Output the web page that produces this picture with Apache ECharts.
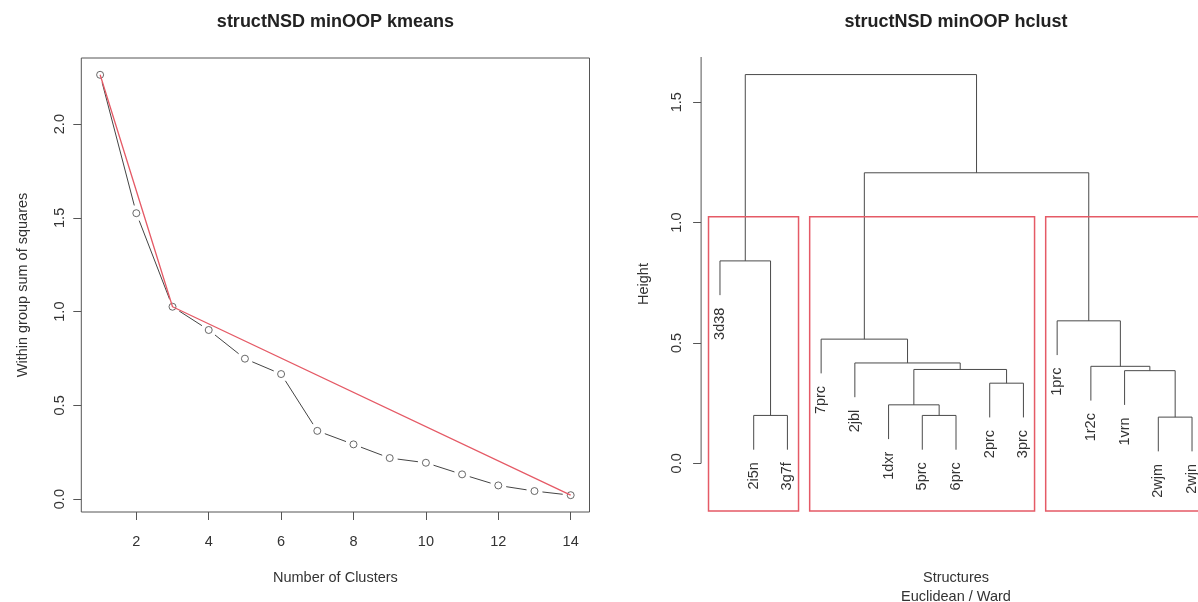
<!DOCTYPE html>
<html>
<head>
<meta charset="utf-8">
<script src="https://cdn.jsdelivr.net/npm/echarts@6/dist/echarts.min.js"></script>
<style>
  html, body { margin: 0; padding: 0; background: #fff; }
  #chart { width: 1198px; height: 602px; }
</style>
</head>
<body>
<div id="chart"></div>
<script>
// ---- k-means elbow: within-group sum of squares for k = 1..14 ----
const clusterCounts = [1, 2, 3, 4, 5, 6, 7, 8, 9, 10, 11, 12, 13, 14];
const withinSS = [2.263, 1.525, 1.026, 0.902, 0.749, 0.667, 0.364, 0.292, 0.219, 0.194, 0.132, 0.073, 0.043, 0.021];
// red guide polyline through the elbow
const elbowK = [1, 3, 14];
const xTicksLeft = [2, 4, 6, 8, 10, 12, 14];
const yTicksLeft = [0, 0.5, 1, 1.5, 2];

// ---- hierarchical clustering (Euclidean / Ward), leaves in plotting order ----
const leafLabels = ['3d38', '2i5n', '3g7f', '7prc', '2jbl', '1dxr', '5prc', '6prc', '2prc', '3prc', '1prc', '1r2c', '1vrn', '2wjm', '2wjn'];
// merge steps in hclust form: negative = leaf (1-based, plotting order), positive = earlier step
const mergeLeft   = [-14, -2, -7, -6, -9, -13, 4, -12, -5, -4, -11, -1, 10, 12];
const mergeRight  = [-15, -3, -8,  3, -10,  1, 5,   6,  7,  9,   8,  2, 11, 13];
const mergeHeight = [0.192, 0.199, 0.199, 0.243, 0.333, 0.385, 0.390, 0.403, 0.417, 0.516, 0.592, 0.841, 1.207, 1.615];
const yTicksRight = [0, 0.5, 1, 1.5];
const clusterSizes = [3, 7, 5];

const FONT = '"Liberation Sans", Arial, Helvetica, sans-serif';
const TEXT = '#333';
const AXIS = '#555';
const RED = '#e55a66';

// R-style axis padding (4% of the data range on each side)
function padRange(lo, hi) { const p = 0.04 * (hi - lo); return [lo - p, hi + p]; }
const [xMinL, xMaxL] = padRange(Math.min(...clusterCounts), Math.max(...clusterCounts));
const [yMinL, yMaxL] = padRange(Math.min(...withinSS), Math.max(...withinSS));
const [xMinR, xMaxR] = padRange(1, leafLabels.length);
const yMinR = -0.198, yMaxR = 1.688;

// dendrogram geometry in data units
const hMin = Math.min(...mergeHeight), hMax = Math.max(...mergeHeight);
const hang = 0.1 * (hMax - hMin);
const nodeX = [];
const leafTop = new Array(leafLabels.length);
const branches = [];
const childX = c => (c < 0 ? -c : nodeX[c - 1]);
mergeHeight.forEach((h, i) => {
  const a = mergeLeft[i], b = mergeRight[i];
  const ya = a < 0 ? h - hang : mergeHeight[a - 1];
  const yb = b < 0 ? h - hang : mergeHeight[b - 1];
  if (a < 0) leafTop[-a - 1] = ya;
  if (b < 0) leafTop[-b - 1] = yb;
  const xa = childX(a), xb = childX(b);
  nodeX.push((xa + xb) / 2);
  branches.push([xa, ya, xb, yb, h]);
});
const leafItems = leafLabels.map((name, i) => [i + 1, leafTop[i], i]);

// rect.hclust boxes for k clusters
const sortedH = mergeHeight.slice().sort((p, q) => q - p);
const kCut = clusterSizes.length;
const cutHeight = (sortedH[kCut - 2] + sortedH[kCut - 1]) / 2;
let acc = 0;
const boxes = clusterSizes.map(s => { const r = [acc + 0.66, acc + s + 0.33, cutHeight]; acc += s; return r; });

// consecutive point pairs for the "both" style line (gaps around each point)
const wssPairs = [];
for (let i = 0; i < clusterCounts.length - 1; i++) {
  wssPairs.push([clusterCounts[i], withinSS[i], clusterCounts[i + 1], withinSS[i + 1]]);
}
const elbowLine = elbowK.map(k => [k, withinSS[clusterCounts.indexOf(k)]]);

const axisText = { fontFamily: FONT, fontSize: 14.5, color: TEXT };

const chart = echarts.init(document.getElementById('chart'), null, { renderer: 'canvas' });
chart.setOption({
  animation: false,
  backgroundColor: '#ffffff',
  title: [
    { text: 'structNSD minOOP kmeans', left: 335.4, top: 13, textAlign: 'center', padding: 0,
      textStyle: { fontFamily: FONT, fontSize: 18, fontWeight: 'bold', color: '#222' } },
    { text: 'structNSD minOOP hclust', left: 956, top: 13, textAlign: 'center', padding: 0,
      textStyle: { fontFamily: FONT, fontSize: 18, fontWeight: 'bold', color: '#222' } }
  ],
  grid: [
    { left: 81.3, top: 58, width: 508.2, height: 454, show: true, borderColor: AXIS, borderWidth: 1,
      backgroundColor: 'transparent', containLabel: false, outerBoundsMode: 'none' },
    { left: 701.1, top: 57, width: 509.8, height: 454, show: false, containLabel: false, outerBoundsMode: 'none' }
  ],
  xAxis: [
    { gridIndex: 0, type: 'value', min: xMinL, max: xMaxL,
      axisLine: { show: false, onZero: false }, splitLine: { show: false },
      axisTick: { show: true, length: 8, customValues: xTicksLeft, lineStyle: { color: AXIS } },
      axisLabel: { customValues: xTicksLeft, margin: 22, ...axisText },
      name: 'Number of Clusters', nameLocation: 'middle', nameGap: 57,
      nameTextStyle: { ...axisText, lineHeight: 18.7 } },
    { gridIndex: 1, type: 'value', min: xMinR, max: xMaxR,
      axisLine: { show: false, onZero: false }, splitLine: { show: false }, axisTick: { show: false }, axisLabel: { show: false },
      name: 'Structures\nEuclidean / Ward', nameLocation: 'middle', nameGap: 58,
      nameTextStyle: { ...axisText, lineHeight: 18.7 } }
  ],
  yAxis: [
    { gridIndex: 0, type: 'value', min: yMinL, max: yMaxL,
      axisLine: { show: false, onZero: false }, splitLine: { show: false },
      axisTick: { show: true, length: 8, customValues: yTicksLeft, lineStyle: { color: AXIS } },
      axisLabel: { customValues: yTicksLeft, rotate: 90, margin: 14, formatter: v => v.toFixed(1), ...axisText },
      name: 'Within group sum of squares', nameLocation: 'middle', nameGap: 51, nameRotate: 90,
      nameTextStyle: axisText },
    { gridIndex: 1, type: 'value', min: yMinR, max: yMaxR,
      axisLine: { show: false, onZero: false }, splitLine: { show: false },
      axisTick: { show: true, length: 8, customValues: yTicksRight, lineStyle: { color: AXIS } },
      axisLabel: { customValues: yTicksRight, rotate: 90, margin: 17, formatter: v => v.toFixed(1), ...axisText },
      name: 'Height', nameLocation: 'middle', nameGap: 50, nameRotate: 90,
      nameTextStyle: axisText }
  ],
  series: [
    // connecting segments, trimmed so they stop short of each circle
    { type: 'custom', xAxisIndex: 0, yAxisIndex: 0, data: wssPairs, silent: true,
      renderItem(params, api) {
        const p = api.coord([api.value(0), api.value(1)]);
        const q = api.coord([api.value(2), api.value(3)]);
        const dx = q[0] - p[0], dy = q[1] - p[1];
        const len = Math.hypot(dx, dy), gap = 8;
        if (len <= 2 * gap) return null;
        const ux = dx / len, uy = dy / len;
        return { type: 'line',
          shape: { x1: p[0] + ux * gap, y1: p[1] + uy * gap, x2: q[0] - ux * gap, y2: q[1] - uy * gap },
          style: { stroke: '#444', lineWidth: 1 } };
      } },
    { type: 'scatter', xAxisIndex: 0, yAxisIndex: 0, silent: true,
      data: clusterCounts.map((k, i) => [k, withinSS[i]]),
      symbol: 'circle', symbolSize: 7,
      itemStyle: { color: 'rgba(0,0,0,0)', borderColor: '#444', borderWidth: 1 } },
    { type: 'line', xAxisIndex: 0, yAxisIndex: 0, silent: true, data: elbowLine,
      showSymbol: false, lineStyle: { color: RED, width: 1.3 } },

    // dendrogram branches
    { type: 'custom', xAxisIndex: 1, yAxisIndex: 1, data: branches, silent: true,
      renderItem(params, api) {
        const xa = api.value(0), ya = api.value(1), xb = api.value(2), yb = api.value(3), h = api.value(4);
        const pts = [api.coord([xa, ya]), api.coord([xa, h]), api.coord([xb, h]), api.coord([xb, yb])];
        return { type: 'polyline', shape: { points: pts }, style: { stroke: '#4a4a4a', lineWidth: 1, fill: null } };
      } },
    // leaf labels
    { type: 'custom', xAxisIndex: 1, yAxisIndex: 1, data: leafItems, silent: true,
      renderItem(params, api) {
        const p = api.coord([api.value(0), api.value(1)]);
        return { type: 'text', x: p[0], y: p[1] + 12.5, rotation: Math.PI / 2,
          style: { text: leafLabels[api.value(2)], fill: TEXT, font: '14.5px ' + FONT, align: 'right', verticalAlign: 'middle' } };
      } },
    // cluster boxes
    { type: 'custom', xAxisIndex: 1, yAxisIndex: 1, data: boxes, silent: true,
      renderItem(params, api) {
        const a = api.coord([api.value(0), api.value(2)]);
        const b = api.coord([api.value(1), yMinR]);
        return { type: 'rect', shape: { x: a[0], y: a[1], width: b[0] - a[0], height: b[1] - a[1] },
          style: { stroke: RED, lineWidth: 1.5, fill: null } };
      } },
    // height axis line, from 0 up to the top of the plotting region
    { type: 'custom', xAxisIndex: 1, yAxisIndex: 1, data: [[xMinR, 0, yMaxR]], silent: true,
      renderItem(params, api) {
        const p = api.coord([api.value(0), api.value(1)]);
        const q = api.coord([api.value(0), api.value(2)]);
        return { type: 'line', shape: { x1: p[0], y1: p[1], x2: q[0], y2: q[1] }, style: { stroke: AXIS, lineWidth: 1 } };
      } }
  ]
});
</script>
</body>
</html>
